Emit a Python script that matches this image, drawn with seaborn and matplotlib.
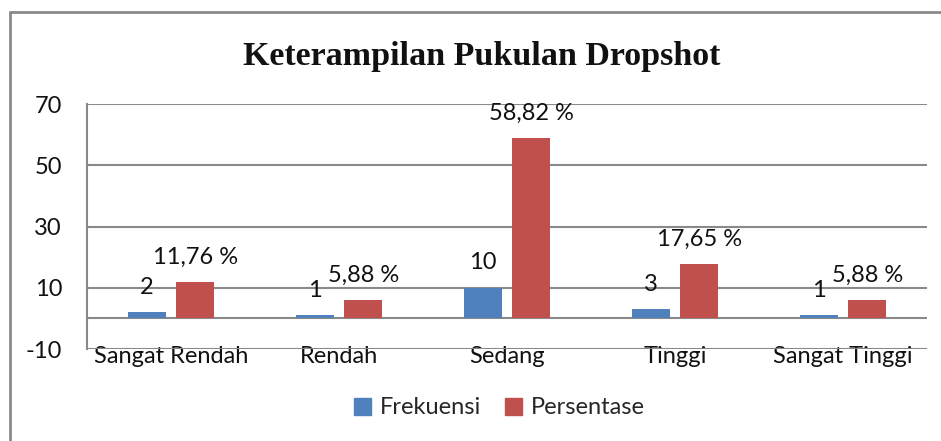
import numpy as np
import pandas as pd
import matplotlib
matplotlib.use("Agg")
import matplotlib.pyplot as plt
import seaborn as sns
from matplotlib.lines import Line2D
from matplotlib.patches import Patch

# data
categories = ["Sangat Rendah", "Rendah", "Sedang", "Tinggi", "Sangat Tinggi"]
frekuensi = [2, 1, 10, 3, 1]
persentase = [11.76, 5.88, 58.82, 17.65, 5.88]
series_names = ["Frekuensi", "Persentase"]
y_ticks = [-10, 10, 30, 50, 70]
title = "Keterampilan Pukulan Dropshot"

colors = ["#4F81BD", "#C0504D"]
grid_color = "#898989"

df = pd.DataFrame({
    "kategori": categories * 2,
    "seri": [series_names[0]] * len(categories) + [series_names[1]] * len(categories),
    "nilai": frekuensi + persentase,
})

sns.set_theme(style="white")
plt.rcParams["font.family"] = ["Lato", "DejaVu Sans"]
plt.rcParams["axes.unicode_minus"] = False

fig = plt.figure(figsize=(9.41, 4.41), dpi=100)
ax = fig.add_axes([0.0925, 0.2086, 0.8925, 0.5554])

sns.barplot(data=df, x="kategori", y="nilai", hue="seri", palette=colors,
            width=0.577, gap=0.22, ax=ax, legend=False, saturation=1,
            linewidth=0, zorder=3)

ax.set_ylim(-10, 70)
ax.set_xlim(-0.5, len(categories) - 0.5)
ax.set_yticks(y_ticks)
ax.set_xlabel("")
ax.set_ylabel("")
ax.yaxis.grid(True, color=grid_color, linewidth=1.5, zorder=0)
ax.axhline(0, color=grid_color, linewidth=1.5, zorder=2)
for side in ["top", "right", "bottom"]:
    ax.spines[side].set_visible(False)
ax.spines["left"].set_color(grid_color)
ax.spines["left"].set_linewidth(1.5)
ax.tick_params(axis="y", length=0, pad=18, labelsize=17, labelcolor="#111111")
ax.tick_params(axis="x", length=0, pad=-2, labelsize=17, labelcolor="#111111")

# value labels
for i, container in enumerate(ax.containers):
    vals = frekuensi if i == 0 else persentase
    for bar, v in zip(container, vals):
        txt = str(v) if i == 0 else f"{v:.2f}".replace(".", ",") + " %"
        ax.annotate(txt, (bar.get_x() + bar.get_width() / 2, bar.get_height()),
                    xytext=(0, 18), textcoords="offset points",
                    ha="center", va="center", fontsize=17, color="#111111")

fig.text(0.512, 1 - 57 / 441, title, ha="center", va="center",
         fontsize=24.5, fontweight="bold", family=["Liberation Serif"], color="#111111")

handles = [Patch(facecolor=c, edgecolor=c) for c in colors]
fig.legend(handles, series_names, loc="center", bbox_to_anchor=(0.531, 1 - 408 / 441),
           ncol=2, frameon=False, fontsize=17, handlelength=0.7, handleheight=0.7,
           handletextpad=0.4, columnspacing=1.0)

# chart frame
fig.add_artist(Line2D([10 / 941, 10 / 941], [0, 1 - 12 / 441], transform=fig.transFigure,
                      color="#8a8a8a", linewidth=2))
fig.add_artist(Line2D([10 / 941, 1], [1 - 12 / 441, 1 - 12 / 441], transform=fig.transFigure,
                      color="#8a8a8a", linewidth=2))

fig.savefig("out.png", dpi=100)
